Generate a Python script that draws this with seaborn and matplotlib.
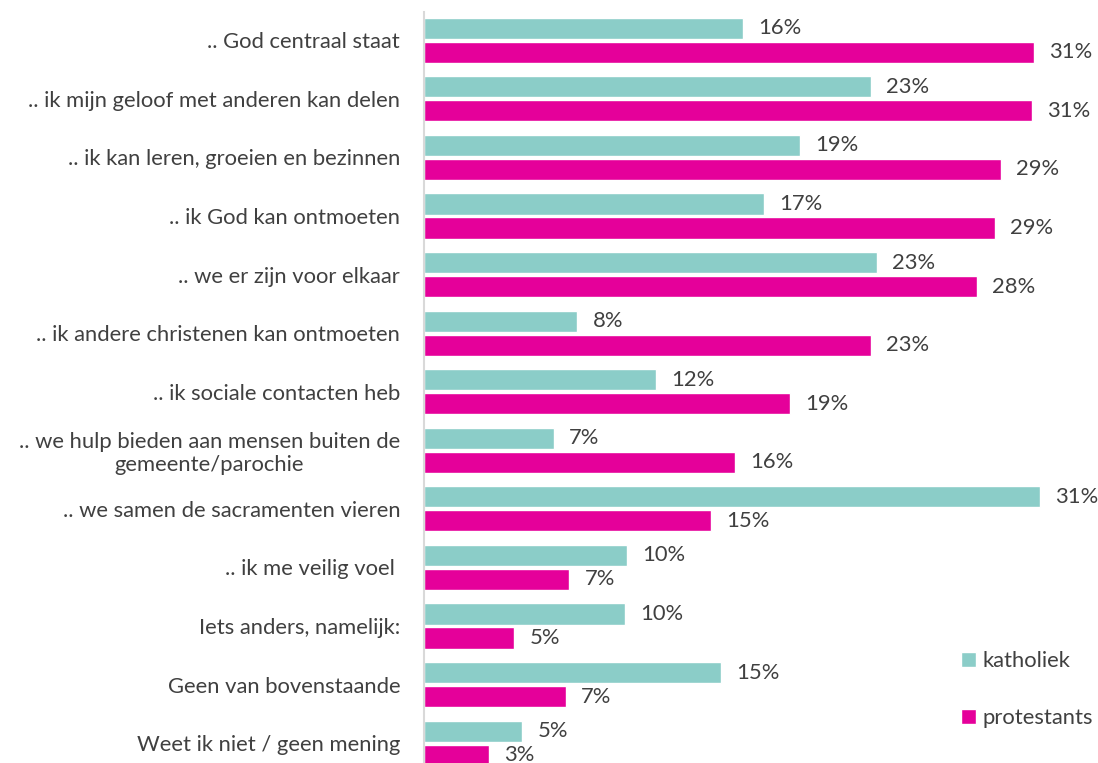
import matplotlib
matplotlib.use("Agg")
import matplotlib.pyplot as plt
import seaborn as sns
import pandas as pd

categories = [
    ".. God centraal staat",
    ".. ik mijn geloof met anderen kan delen",
    ".. ik kan leren, groeien en bezinnen",
    ".. ik God kan ontmoeten",
    ".. we er zijn voor elkaar",
    ".. ik andere christenen kan ontmoeten",
    ".. ik sociale contacten heb",
    ".. we hulp bieden aan mensen buiten de\ngemeente/parochie",
    ".. we samen de sacramenten vieren",
    ".. ik me veilig voel ",
    "Iets anders, namelijk:",
    "Geen van bovenstaande",
    "Weet ik niet / geen mening",
]
katholiek = [16.2, 22.7, 19.1, 17.3, 23.0, 7.8, 11.8, 6.6, 31.3, 10.3, 10.2, 15.1, 5.0]
protestants = [31.0, 30.9, 29.3, 29.0, 28.1, 22.7, 18.6, 15.8, 14.6, 7.4, 4.6, 7.2, 3.3]
series_names = ["katholiek", "protestants"]
colors = ["#8BCDC8", "#E5009A"]

df = pd.DataFrame({
    "cat": categories * 2,
    "val": katholiek + protestants,
    "group": [series_names[0]] * len(categories) + [series_names[1]] * len(categories),
})

sns.set_theme(style="white")
plt.rcParams["font.family"] = ["Lato", "DejaVu Sans"]
text_color = "#404040"
fs = 15.8

fig = plt.figure(figsize=(10.98, 7.63), dpi=100)
ax = fig.add_axes([0.386, 0.0, 0.614, 0.984])

sns.barplot(data=df, x="val", y="cat", hue="group", palette=colors,
            width=0.82, gap=0.12, dodge=True, ax=ax, orient="h", saturation=1)

for cont in ax.containers:
    labels = [f"{round(v.get_width()):d}%" for v in cont]
    ax.bar_label(cont, labels=labels, padding=11, fontsize=fs, color=text_color)

ax.set_xlim(0, 34.25)
ax.set_ylim(12.34, -0.48)
ax.set_xlabel("")
ax.set_ylabel("")
ax.set_xticks([])
for s in ["top", "right", "bottom"]:
    ax.spines[s].set_visible(False)
ax.spines["left"].set_color("#d9d9d9")
ax.spines["left"].set_linewidth(1.5)
ax.tick_params(axis="y", length=0, pad=17, labelsize=fs, labelcolor=text_color)
for t in ax.get_yticklabels():
    t.set_multialignment("center")
    t.set_linespacing(1.15)

leg = ax.legend(loc="lower left", bbox_to_anchor=(0.767, 0.02), frameon=False,
                fontsize=fs, labelspacing=1.7, handlelength=0.7, handleheight=0.7,
                handletextpad=0.3)
for txt in leg.get_texts():
    txt.set_color(text_color)

fig.savefig("out.png", dpi=100)
